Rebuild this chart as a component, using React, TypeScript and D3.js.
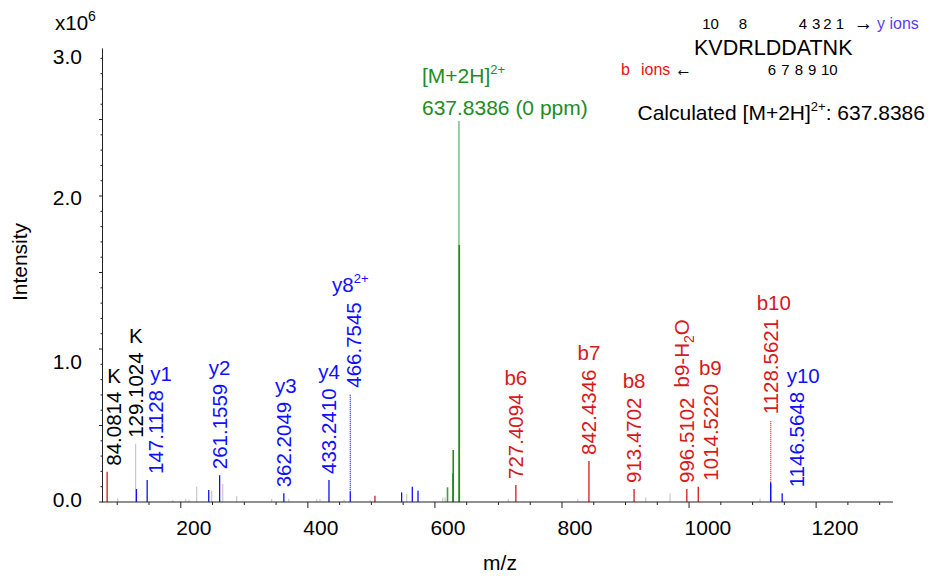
import React from "react";
import * as d3 from "d3";

const W = 939;
const H = 576;
const FONT = '"Liberation Sans", Arial, Helvetica, sans-serif';

// unassigned peaks (grey)
const greyMz = [100.7, 128.9, 187.3, 207.7, 213, 225, 248.7, 266, 288, 343, 370, 414, 419, 457, 497.8, 555.6, 612.3, 616, 715.6, 824.8, 931.8, 970, 1111.7];
const greyInt = [0.025, 0.38, 0.012, 0.02, 0.015, 0.1, 0.074, 0.118, 0.04, 0.02, 0.022, 0.018, 0.02, 0.015, 0.015, 0.052, 0.03, 0.03, 0.02, 0.02, 0.03, 0.055, 0.025];

// b ions and related (red)
const redMz = [84.08, 505.6, 727.41, 842.43, 913.47, 996.51, 1014.52, 1128.56];
const redInt = [0.198, 0.041, 0.111, 0.268, 0.085, 0.085, 0.1, 0.12];

// y ions and related (blue)
const blueMz = [130.2, 147.11, 244, 261.16, 362.2, 433.24, 466.75, 547.6, 564.4, 573.4, 1128.4, 1146.56];
const blueInt = [0.085, 0.144, 0.078, 0.175, 0.057, 0.144, 0.067, 0.063, 0.1, 0.074, 0.129, 0.057];

// precursor cluster (green)
const greenMz = [619.83, 628.33, 628.83, 637.84, 638.34];
const greenInt = [0.096, 0.19, 0.34, 2.49, 1.68];

// annotated peaks
const annMz = [84.0814, 129.1024, 147.1128, 261.1559, 362.2049, 433.241, 466.7545, 727.4094, 842.4346, 913.4702, 996.5102, 1014.522, 1128.5621, 1146.5648];
const annLabel = ["84.0814", "129.1024", "147.1128", "261.1559", "362.2049", "433.2410", "466.7545", "727.4094", "842.4346", "913.4702", "996.5102", "1014.5220", "1128.5621", "1146.5648"];
const annIon = ["K", "K", "y1", "y2", "y3", "y4", "y8", "b6", "b7", "b8", "b9-H2O", "b9", "b10", "y10"];
const annKind = ["k", "k", "y", "y", "y", "y", "y", "b", "b", "b", "b", "b", "b", "y"];

const xTickVals = [200, 400, 600, 800, 1000, 1200];
const yTickVals = [0, 1e6, 2e6, 3e6];
const yTickText = ["0.0", "1.0", "2.0", "3.0"];

const sequence = "KVDRLDDATNK";
const yIonNums = ["10", "8", "4", "3", "2", "1"];
const yIonIdx = [1, 3, 7, 8, 9, 10];
const bIonNums = ["6", "7", "8", "9", "10"];
const bIonIdx = [5, 6, 7, 8, 9];

// layout nudges (label placement)
const labelDx: Record<string, number> = { "84.0814": 7, "147.1128": 8, "466.7545": 3, "1014.5220": 12, "1146.5648": 14 };
const labelLift: Record<string, number> = { "466.7545": 98, "1128.5621": 62 };
const ionDx: Record<string, number> = { y1: 6, y10: 7, b10: 3, y3: 2 };
const yLabelShift = [-2.5, 12.5, 1, 13];
const yNumDx = [-5, -3, -1, -1.5, -3, -5.5];
const bNumDx = [-1.5, -3.5, -5, -5.5, -1];

const COLORS = { grey: "#c8c8c8", red: "#d7191c", blue: "#1010ff", green: "#1e8c1e", k: "#000" };

let ctx: CanvasRenderingContext2D | null = null;
function textW(s: string, size: number) {
  if (!ctx) ctx = document.createElement("canvas").getContext("2d");
  if (!ctx) return s.length * size * 0.55;
  ctx.font = `${size}px ${FONT}`;
  return ctx.measureText(s).width;
}

export default function App() {
  const x = d3.scaleLinear().domain([76, 1321]).range([102, 893]);
  const y = d3.scaleLinear().domain([0, 2.965e6]).range([502, 48.4]);

  const allPeaks = [
    ...greyMz.map((m, i) => ({ m, v: greyInt[i] * 1e6 })),
    ...redMz.map((m, i) => ({ m, v: redInt[i] * 1e6 })),
    ...blueMz.map((m, i) => ({ m, v: blueInt[i] * 1e6 })),
  ];
  const peakAt = (mz: number) =>
    d3.max(allPeaks.filter((p) => Math.abs(p.m - mz) < 1.5), (p) => p.v) || 0;

  const series = [
    { mz: greyMz, v: greyInt, c: COLORS.grey, w: 1.2 },
    { mz: redMz, v: redInt, c: COLORS.red, w: 1.3 },
    { mz: blueMz, v: blueInt, c: COLORS.blue, w: 1.3 },
  ];

  const AF = 20.5; // annotation font size
  const capHalf = AF * 0.716 / 2;

  // sequence letter centres
  const seqX0 = 694;
  const seqSize = 21.5;
  const letterC = sequence.split("").map((ch, i) => seqX0 + textW(sequence.slice(0, i), seqSize) + textW(ch, seqSize) / 2);

  const yMinor = d3.range(0, 2.95e6, 1e5);
  const xMinor = d3.range(100, 1301, 50);

  return (
    <svg width={W} height={H} style={{ position: "absolute", left: 0, top: 0, background: "#fff" }} fontFamily={FONT}>
      {/* peaks */}
      {series.map((s, si) => (
        <g key={si} stroke={s.c} strokeWidth={s.w}>
          {s.mz.map((m, i) => (
            <line key={i} x1={x(m)} x2={x(m)} y1={y(0)} y2={y(s.v[i] * 1e6)} />
          ))}
        </g>
      ))}
      <g stroke={COLORS.green}>
        {greenMz.map((m, i) => (
          <line key={i} x1={x(m)} x2={x(m)} y1={y(0)} y2={y(greenInt[i] * 1e6)}
            strokeWidth={greenInt[i] > 2 ? 1 : 1.6} opacity={greenInt[i] > 2 || greenInt[i] < 0.2 ? 0.85 : 1} />
        ))}
      </g>

      {/* axes */}
      <g stroke="#222" strokeWidth={1}>
        <line x1={102} x2={893} y1={502} y2={502} />
        <line x1={102.5} x2={102.5} y1={48.4} y2={502} />
        {xMinor.map((v) => (
          <line key={v} x1={x(v)} x2={x(v)} y1={502} y2={v % 200 === 0 ? 508 : 505} />
        ))}
        {yMinor.map((v, i) => (
          <line key={i} x1={i % 5 === 0 ? 99 : 100.5} x2={102.5} y1={y(v)} y2={y(v)} />
        ))}
      </g>
      <g fontSize={21} fill="#000">
        {xTickVals.map((v) => (
          <text key={v} x={x(v) - 4.5} y={535}>{v}</text>
        ))}
        {yTickVals.map((v, i) => (
          <text key={v} x={82} y={y(v) + yLabelShift[i]} textAnchor="end" dominantBaseline="central">{yTickText[i]}</text>
        ))}
        <text x={500} y={570} textAnchor="middle">m/z</text>
        <text transform="translate(27,262) rotate(-90)" textAnchor="middle">Intensity</text>
        <text x={55} y={30} fontSize={20.5}>x10<tspan fontSize={14} dy={-9}>6</tspan></text>
      </g>

      {/* peak annotations */}
      {annMz.map((mz, i) => {
        const lab = annLabel[i];
        const ion = annIon[i];
        const col = annKind[i] === "b" ? COLORS.red : annKind[i] === "y" ? COLORS.blue : COLORS.k;
        const px = x(mz);
        const pv = peakAt(mz);
        const cx = px + (labelDx[lab] || 0);
        const lift = labelLift[lab] || 0;
        const bottom = y(pv) - 6 - lift;
        const top = bottom - textW(lab, AF);
        return (
          <g key={lab} fill={col}>
            {lift > 0 && (
              <line x1={px} x2={px} y1={bottom + 7} y2={y(pv)} stroke={col} strokeWidth={1.2} strokeDasharray="1,1" />
            )}
            <text fontSize={AF} transform={`translate(${cx + capHalf},${bottom}) rotate(-90)`}>{lab}</text>
            {ion === "b9-H2O" ? (
              <text fontSize={AF} transform={`translate(${cx + capHalf - 5},${top - 10}) rotate(-90)`}>
                b9-H<tspan fontSize={14} dy={5}>2</tspan><tspan dy={-5}>O</tspan>
              </text>
            ) : ion === "y8" ? (
              <text fontSize={AF} x={cx - 3} y={top - 10} textAnchor="middle">
                y8<tspan fontSize={13} dy={-9}>2+</tspan>
              </text>
            ) : (
              <text fontSize={AF} x={cx + (ionDx[ion] || 0)} y={top - 9} textAnchor="middle">{ion}</text>
            )}
          </g>
        );
      })}

      {/* precursor label */}
      <g fill={COLORS.green} fontSize={21}>
        <text x={x(637.84) - 37} y={83}>[M+2H]<tspan fontSize={13} dy={-9}>2+</tspan></text>
        <text x={x(637.84) - 37} y={115}>637.8386 (0 ppm)</text>
      </g>

      {/* sequence coverage */}
      <g fill="#000">
        <text x={seqX0} y={55} fontSize={seqSize}>{sequence}</text>
        {yIonNums.map((n, i) => (
          <text key={"y" + i} x={letterC[yIonIdx[i]] + yNumDx[i]} y={29} fontSize={15} textAnchor="middle">{n}</text>
        ))}
        {bIonNums.map((n, i) => (
          <text key={"b" + i} x={letterC[bIonIdx[i]] + bNumDx[i]} y={75} fontSize={15} textAnchor="middle">{n}</text>
        ))}
        <text x={854} y={30} fontSize={21} textLength={19} lengthAdjust="spacingAndGlyphs">→</text>
        <text x={877} y={29} fontSize={16} fill="#5b3df0">y ions</text>
        <text x={621} y={75} fontSize={16} fill="#ee1111">b</text>
        <text x={641} y={75} fontSize={16} fill="#ee1111">ions</text>
        <text x={675} y={76} fontSize={21} textLength={17} lengthAdjust="spacingAndGlyphs">←</text>
        <text x={637.5} y={120} fontSize={21}>
          Calculated [M+2H]<tspan fontSize={13} dy={-9}>2+</tspan><tspan dy={9}>: 637.8386</tspan>
        </text>
      </g>
    </svg>
  );
}
